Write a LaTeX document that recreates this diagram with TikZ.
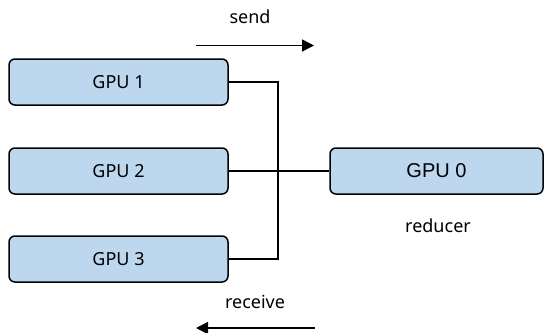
\documentclass[tikz,border=0pt]{standalone}
\usepackage{fontspec}
\setmainfont{Noto Sans}
\newfontfamily\arialfont{Liberation Sans}
\usetikzlibrary{positioning,arrows.meta}
\definecolor{gpublue}{HTML}{BDD7EE}
\begin{document}
\begin{tikzpicture}[x=1pt,y=-1pt,
  gpu/.style={draw=black,line width=1.5pt,fill=gpublue,rounded corners=6pt,
    minimum width=219pt,minimum height=46pt,inner sep=0pt,
    font=\fontsize{18}{20}\selectfont},
  lbl/.style={font=\fontsize{18}{20}\selectfont},
  flow/.style={line width=1.5pt,-{Triangle[length=12pt,width=12pt]}}]
  \useasboundingbox (0,0) rectangle (545,332);
  \node[gpu] (gpu1) at (118.5,82) {GPU 1};
  \node[gpu] (gpu2) at (118.5,171) {GPU 2};
  \node[gpu] (gpu3) at (118.5,259) {GPU 3};
  \node[gpu,minimum width=213pt,font=\arialfont\fontsize{20}{22}\selectfont]
    (gpu0) at (436.5,171) {GPU 0};
  \node[lbl] (send) at (250,17) {send};
  \node[lbl] (reducer) at (438,226) {reducer};
  \node[lbl] (receive) at (255,302) {receive};
  \coordinate (bus) at (278,171);
  \coordinate (sendA) at (196,45.5);
  \coordinate (sendB) at (314,45.5);
  \coordinate (recvA) at (315,328);
  \coordinate (recvB) at (196,328);
  \draw[line width=1.5pt] (gpu1.east) -| (bus) |- (gpu3.east);
  \draw[line width=1.5pt] (gpu2.east) -- (bus);
  \draw[line width=2.2pt] (bus) -- (gpu0.west);
  \draw[flow] (sendA) -- (sendB);
  \draw[flow] (recvA) -- (recvB);
\end{tikzpicture}
\end{document}
